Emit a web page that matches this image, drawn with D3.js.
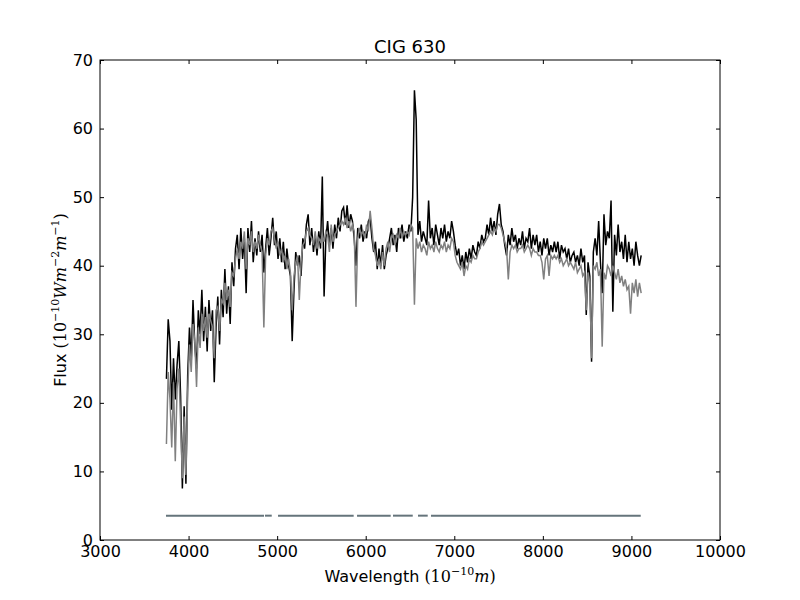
<!DOCTYPE html>
<html>
<head>
<meta charset="UTF-8">
<title>CIG 630</title>
<script src="https://d3js.org/d3.v7.min.js"></script>
<style>
  body { margin: 0; background: #fff; }
  svg text { font-family: "DejaVu Sans", sans-serif; fill: #000; }
</style>
</head>
<body>
<div id="chart"></div>
<script>
// wavelength grid (Angstrom)
const wavelength = [
  3750,3770,3790,3810,3830,3850,3870,3890,3910,3930,3950,3970,3990,4010,4030,4050,4070,4090,4110,4130,
  4150,4170,4190,4210,4230,4250,4270,4290,4310,4330,4350,4370,4390,4410,4430,4450,4470,4490,4510,4530,
  4550,4570,4590,4610,4630,4650,4670,4690,4710,4730,4750,4770,4790,4810,4830,4850,4870,4890,4910,4930,
  4950,4970,4990,5010,5030,5050,5070,5090,5110,5130,5150,5170,5190,5210,5230,5250,5270,5290,5310,5330,
  5350,5370,5390,5410,5430,5450,5470,5490,5510,5530,5550,5570,5590,5610,5630,5650,5670,5690,5710,5730,
  5750,5770,5790,5810,5830,5850,5870,5890,5910,5930,5950,5970,5990,6010,6030,6050,6070,6090,6110,6130,
  6150,6170,6190,6210,6230,6250,6270,6290,6310,6330,6350,6370,6390,6410,6430,6450,6470,6490,6510,6530,
  6550,6570,6590,6610,6630,6650,6670,6690,6710,6730,6750,6770,6790,6810,6830,6850,6870,6890,6910,6930,
  6950,6970,6990,7010,7030,7050,7070,7090,7110,7130,7150,7170,7190,7210,7230,7250,7270,7290,7310,7330,
  7350,7370,7390,7410,7430,7450,7470,7490,7510,7530,7550,7570,7590,7610,7630,7650,7670,7690,7710,7730,
  7750,7770,7790,7810,7830,7850,7870,7890,7910,7930,7950,7970,7990,8010,8030,8050,8070,8090,8110,8130,
  8150,8170,8190,8210,8230,8250,8270,8290,8310,8330,8350,8370,8390,8410,8430,8450,8470,8490,8510,8530,
  8550,8570,8590,8610,8630,8650,8670,8690,8710,8730,8750,8770,8790,8810,8830,8850,8870,8890,8910,8930,
  8950,8970,8990,9010,9030,9050,9070,9090,9110
];

// observed flux (black)
const fluxObserved = [
  23.5,32.2,29.0,19.0,26.5,20.5,25.5,29.0,21.0,7.5,19.5,8.2,24.0,31.0,26.0,35.0,28.5,25.0,33.5,30.0,
  36.5,29.0,34.0,27.5,35.0,30.5,33.5,23.0,31.0,35.5,28.5,36.5,32.5,39.5,33.0,37.0,31.5,40.5,37.0,42.5,
  44.5,39.5,45.5,41.0,44.0,36.0,45.5,42.0,46.5,40.5,44.0,41.5,45.0,42.0,44.5,39.0,42.5,45.5,41.5,44.0,
  47.0,43.0,45.0,41.0,44.0,40.5,43.5,39.5,42.5,40.0,38.5,29.0,36.5,42.0,40.0,41.5,38.5,44.0,42.5,46.0,
  47.5,43.0,45.5,42.0,44.5,41.5,45.0,42.5,53.0,35.5,44.0,46.5,43.0,45.5,42.5,46.0,44.0,47.0,45.0,48.0,
  48.5,46.0,48.8,45.5,47.5,46.5,44.0,40.0,45.5,44.0,46.0,43.5,45.0,44.0,46.5,47.0,44.0,42.0,43.5,39.5,
  42.5,40.0,43.0,39.5,41.5,42.5,44.0,45.5,43.0,44.5,42.0,45.5,44.0,46.0,43.5,45.0,44.0,46.0,45.0,50.0,
  65.6,61.3,44.5,46.5,43.5,45.0,44.0,43.0,49.5,44.0,45.5,43.0,46.0,44.5,43.0,45.5,44.0,46.0,43.5,45.0,
  44.0,46.5,45.0,43.0,41.5,42.5,40.0,41.5,39.5,42.0,40.5,42.5,41.0,43.0,42.0,41.5,43.5,42.5,44.5,43.5,
  44.0,46.0,44.5,47.0,45.0,46.5,44.5,47.5,49.0,46.0,45.0,43.0,41.5,44.5,43.0,45.5,43.5,44.5,42.5,44.0,
  43.0,45.0,42.5,44.0,43.5,45.5,42.5,44.5,43.0,44.5,42.0,43.5,41.5,44.0,42.5,44.0,41.5,43.0,42.0,43.5,
  42.0,43.5,41.0,43.0,42.0,42.5,41.0,42.5,40.5,41.5,42.0,40.5,41.5,40.0,42.5,40.5,41.5,32.8,40.5,38.5,
  26.0,42.0,44.0,41.5,46.5,40.5,36.0,47.5,43.0,45.0,44.0,49.5,33.3,44.5,41.5,46.0,42.0,43.5,41.0,44.5,
  40.5,43.5,41.0,42.5,40.0,43.5,41.5,40.0,41.5
];

// model flux (gray)
const fluxModel = [
  14.0,24.5,20.5,13.5,23.0,11.5,22.0,25.0,17.0,9.0,18.0,9.5,21.5,28.5,24.5,31.5,29.0,22.3,31.0,28.0,
  33.0,30.5,32.5,29.5,33.0,32.0,31.0,26.5,33.5,34.0,30.5,35.0,34.5,37.5,35.0,36.5,34.0,39.0,38.5,41.0,
  42.5,41.0,43.5,42.5,45.0,39.5,44.0,43.0,45.0,42.0,43.5,42.5,44.5,43.0,42.0,31.0,41.5,44.0,43.0,45.0,
  45.5,44.0,42.5,43.5,41.5,42.5,40.5,41.5,39.5,41.0,39.0,33.5,38.5,40.5,41.5,35.0,40.5,43.0,43.5,45.0,
  45.5,44.5,44.0,43.0,45.0,42.5,44.0,43.5,44.5,43.5,45.0,44.5,42.0,46.0,43.5,44.5,45.0,45.5,46.0,46.5,
  46.0,47.0,45.5,46.5,45.0,46.0,45.0,34.0,44.0,45.5,44.5,45.0,44.0,46.0,45.0,48.0,45.5,42.5,41.5,40.0,
  41.0,39.5,42.0,40.0,42.5,43.5,42.0,44.0,44.5,43.0,44.5,44.0,45.5,44.0,45.0,44.5,45.0,44.5,46.0,45.5,
  34.3,44.0,42.5,43.5,42.0,43.0,42.5,41.5,43.5,42.5,43.0,42.0,43.5,42.5,42.0,43.0,42.5,43.5,42.0,43.0,
  42.5,44.0,43.5,41.5,40.5,40.0,39.5,40.5,38.5,40.0,39.5,41.0,40.5,41.5,41.0,41.0,42.0,42.5,43.5,43.0,
  43.5,44.0,44.5,45.0,44.5,45.5,45.0,46.0,46.0,45.5,44.5,43.5,42.5,38.0,42.0,43.0,42.5,43.0,42.0,42.5,
  42.5,43.0,42.0,42.5,43.0,42.5,41.5,42.5,42.0,42.0,41.5,41.5,40.5,38.0,41.0,41.5,38.5,41.5,41.0,41.5,
  41.0,41.5,40.5,41.0,40.0,40.5,41.0,40.0,40.5,40.0,39.5,40.5,39.0,39.5,40.0,38.5,39.0,33.5,39.0,37.5,
  26.5,40.0,39.5,40.5,38.5,39.5,28.2,39.0,38.0,40.0,39.5,38.5,40.0,39.0,38.0,39.5,37.5,38.5,37.0,38.0,
  36.5,37.0,33.0,37.5,36.0,38.0,35.5,37.5,36.0
];

// good-pixel mask segments
const maskStart = [3745, 4863, 5010, 5902, 6308, 6590, 6737];
const maskEnd   = [4852, 4939, 5864, 6282, 6531, 6700, 9105];
const maskLevel = 3.55;

const xTicks = [3000, 4000, 5000, 6000, 7000, 8000, 9000, 10000];
const yTicks = [0, 10, 20, 30, 40, 50, 60, 70];

const margin = { top: 60, right: 80, bottom: 60, left: 100 },
      width = 800 - margin.left - margin.right,
      height = 600 - margin.top - margin.bottom;

const svg = d3.select("#chart").append("svg")
    .attr("width", 800)
    .attr("height", 600);

const g = svg.append("g")
    .attr("transform", `translate(${margin.left},${margin.top})`);

const x = d3.scaleLinear().domain([3000, 10000]).range([0, width]);
const y = d3.scaleLinear().domain([0, 70]).range([height, 0]);

const spec = wavelength.map((w, i) => ({ w, obs: fluxObserved[i], mod: fluxModel[i] }));

g.append("path")
    .datum(spec)
    .attr("fill", "none")
    .attr("stroke", "#000")
    .attr("stroke-width", 1.5)
    .attr("d", d3.line().x(d => x(d.w)).y(d => y(d.obs)));

g.append("path")
    .datum(spec)
    .attr("fill", "none")
    .attr("stroke", "#808080")
    .attr("stroke-width", 1.5)
    .attr("d", d3.line().x(d => x(d.w)).y(d => y(d.mod)));

// mask segments
g.selectAll(".mask")
    .data(maskStart.map((s, i) => [s, maskEnd[i]]))
    .enter().append("line")
    .attr("class", "mask")
    .attr("x1", d => x(d[0]))
    .attr("x2", d => x(d[1]))
    .attr("y1", y(maskLevel))
    .attr("y2", y(maskLevel))
    .attr("stroke", "#65747b")
    .attr("stroke-width", 2);

// axes, ticks pointing inward on all four sides
function styleAxis(sel) {
    sel.select(".domain").remove();
    sel.selectAll("text").attr("font-family", "DejaVu Sans, sans-serif").attr("font-size", 16);
    sel.selectAll("line").attr("stroke", "#000");
}

g.append("g")
    .attr("transform", `translate(0,${height})`)
    .call(d3.axisBottom(x).tickValues(xTicks).tickSize(-4).tickPadding(6).tickFormat(d3.format("d")))
    .call(styleAxis);

g.append("g")
    .call(d3.axisTop(x).tickValues(xTicks).tickSize(-4).tickFormat(""))
    .call(styleAxis);

g.append("g")
    .call(d3.axisLeft(y).tickValues(yTicks).tickSize(-4).tickPadding(7).tickFormat(d3.format("d")))
    .call(styleAxis);

g.append("g")
    .attr("transform", `translate(${width},0)`)
    .call(d3.axisRight(y).tickValues(yTicks).tickSize(-4).tickFormat(""))
    .call(styleAxis);

g.append("rect")
    .attr("width", width)
    .attr("height", height)
    .attr("fill", "none")
    .attr("stroke", "#000")
    .attr("stroke-width", 1);

// title
svg.append("text")
    .attr("x", margin.left + width / 2)
    .attr("y", 53)
    .attr("text-anchor", "middle")
    .attr("font-size", 18)
    .text("CIG 630");

// text with mathtext-like parts
function mathText(el, parts) {
    parts.forEach(p => {
        const t = el.append("tspan").text(p.t);
        if (p.serif) t.attr("font-family", "DejaVu Serif, serif");
        if (p.it) t.attr("font-style", "italic");
        if (p.sup) t.attr("font-size", 11).attr("dy", -7);
        if (p.down) t.attr("dy", 7);
    });
}

const xl = svg.append("text")
    .attr("x", margin.left + width / 2)
    .attr("y", 582)
    .attr("text-anchor", "middle")
    .attr("font-size", 16);
mathText(xl, [
    { t: "Wavelength " },
    { t: "(10", serif: true },
    { t: "−10", serif: true, sup: true },
    { t: "m", serif: true, it: true, down: true },
    { t: ")", serif: true }
]);

const yl = svg.append("text")
    .attr("transform", `translate(66,${margin.top + height / 2}) rotate(-90)`)
    .attr("text-anchor", "middle")
    .attr("font-size", 16);
mathText(yl, [
    { t: "Flux " },
    { t: "(10", serif: true },
    { t: "−10", serif: true, sup: true },
    { t: "Wm", serif: true, it: true, down: true },
    { t: "−2", serif: true, sup: true },
    { t: "m", serif: true, it: true, down: true },
    { t: "−1", serif: true, sup: true },
    { t: ")", serif: true, down: true }
]);
</script>
</body>
</html>
